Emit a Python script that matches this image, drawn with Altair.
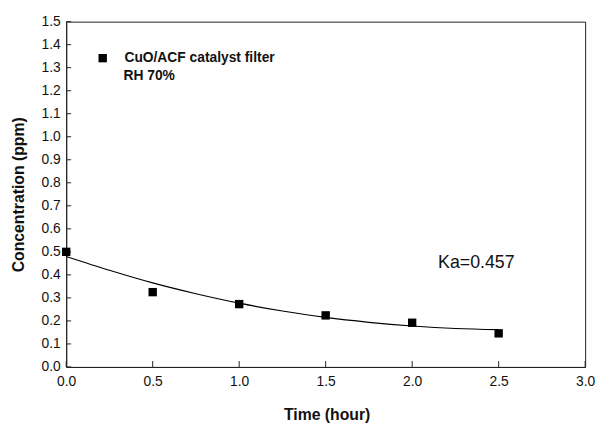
import altair as alt
import pandas as pd

# measured data
time_h = [0.0, 0.5, 1.0, 1.5, 2.0, 2.5]
conc_ppm = [0.50, 0.325, 0.273, 0.224, 0.192, 0.146]

# fitted curve
fit_t = [0.0, 0.25, 0.5, 0.75, 1.0, 1.25, 1.5, 1.75, 2.0, 2.25, 2.5]
fit_c = [0.480, 0.420, 0.365, 0.318, 0.277, 0.243, 0.215, 0.194, 0.178, 0.167, 0.162]

x_ticks = [0.0, 0.5, 1.0, 1.5, 2.0, 2.5, 3.0]
y_ticks = [round(i * 0.1, 1) for i in range(16)]

series_name = "CuO/ACF catalyst filter"
series_note = "RH 70%"
ka_label = "Ka=0.457"

W, H = 526, 350
FONT = "Liberation Sans"
AX = "#222222"

pts = pd.DataFrame({"t": time_h, "c": conc_ppm, "s": [series_name] * len(time_h)})
fit = pd.DataFrame({"t": fit_t, "c": fit_c})
xt = pd.DataFrame({"v": x_ticks})
yt = pd.DataFrame({"v": y_ticks})

xscale = alt.Scale(domain=[0, 3], nice=False, zero=False)
yscale = alt.Scale(domain=[0, 1.5], nice=False, zero=False)

xaxis = alt.Axis(
    title="Time (hour)", values=x_ticks, format=".1f", ticks=False, grid=False,
    domainColor=AX, labelFont=FONT, labelFontSize=14, labelColor="#111",
    labelPadding=8, titleFont=FONT, titleFontSize=16, titleFontWeight="bold",
    titleColor="#111", titleX=264, titleY=53, titleBaseline="alphabetic",
    labelFlush=False, labelOverlap=False,
)
yaxis = alt.Axis(
    title="Concentration (ppm)", values=y_ticks, format=".1f", ticks=False,
    grid=False, domainColor=AX, labelFont=FONT, labelFontSize=14,
    labelColor="#111", labelPadding=6, titleFont=FONT, titleFontSize=16,
    titleFontWeight="bold", titleColor="#111", titleX=-48, titleY=175,
    titleAngle=270, titleBaseline="middle", titleAlign="center",
    labelFlush=False, labelOverlap=False,
)


def X(field):
    return alt.X(field, type="quantitative", scale=xscale, axis=xaxis)


def Y(field):
    return alt.Y(field, type="quantitative", scale=yscale, axis=yaxis)


curve = alt.Chart(fit).mark_line(color="black", strokeWidth=1.2, interpolate="monotone").encode(
    x=X("t"), y=Y("c"),
)

points = alt.Chart(pts).mark_square(size=72, opacity=1, clip=False).encode(
    x=X("t"),
    y=Y("c"),
    color=alt.Color(
        "s:N",
        scale=alt.Scale(range=["black"]),
        legend=alt.Legend(
            title=None, orient="none", legendX=30, legendY=30,
            symbolType="square", symbolSize=72, symbolFillColor="black",
            symbolStrokeWidth=0, labelFont=FONT, labelFontSize=14,
            labelFontWeight="bold", labelColor="#111", labelOffset=15,
            padding=0,
        ),
    ),
)

note = alt.Chart(pd.DataFrame({"t": [0.331], "c": [1.262], "txt": [series_note]})).mark_text(
    font=FONT, fontSize=14, fontWeight="bold", color="#111", align="left", baseline="middle"
).encode(x=X("t"), y=Y("c"), text="txt:N")

ka = alt.Chart(pd.DataFrame({"t": [2.15], "c": [0.45], "txt": [ka_label]})).mark_text(
    font=FONT, fontSize=18, color="#111", align="left", baseline="middle"
).encode(x=X("t"), y=Y("c"), text="txt:N")

xticks = alt.Chart(xt).mark_rule(color=AX, strokeWidth=1).encode(
    x=X("v"), y=alt.value(H), y2=alt.value(H - 6)
)
yticks = alt.Chart(yt).mark_rule(color=AX, strokeWidth=1).encode(
    y=Y("v"), x=alt.value(0), x2=alt.value(5)
)

chart = alt.layer(curve, xticks, yticks, points, note, ka).properties(
    width=W, height=H,
    autosize=alt.AutoSizeParams(type="none"),
    padding={"left": 59, "top": 11, "right": 10, "bottom": 56},
    background="white",
).configure_view(stroke=AX, strokeWidth=1)

chart.save("out.html", embed_options={"renderer": "svg", "actions": False})
